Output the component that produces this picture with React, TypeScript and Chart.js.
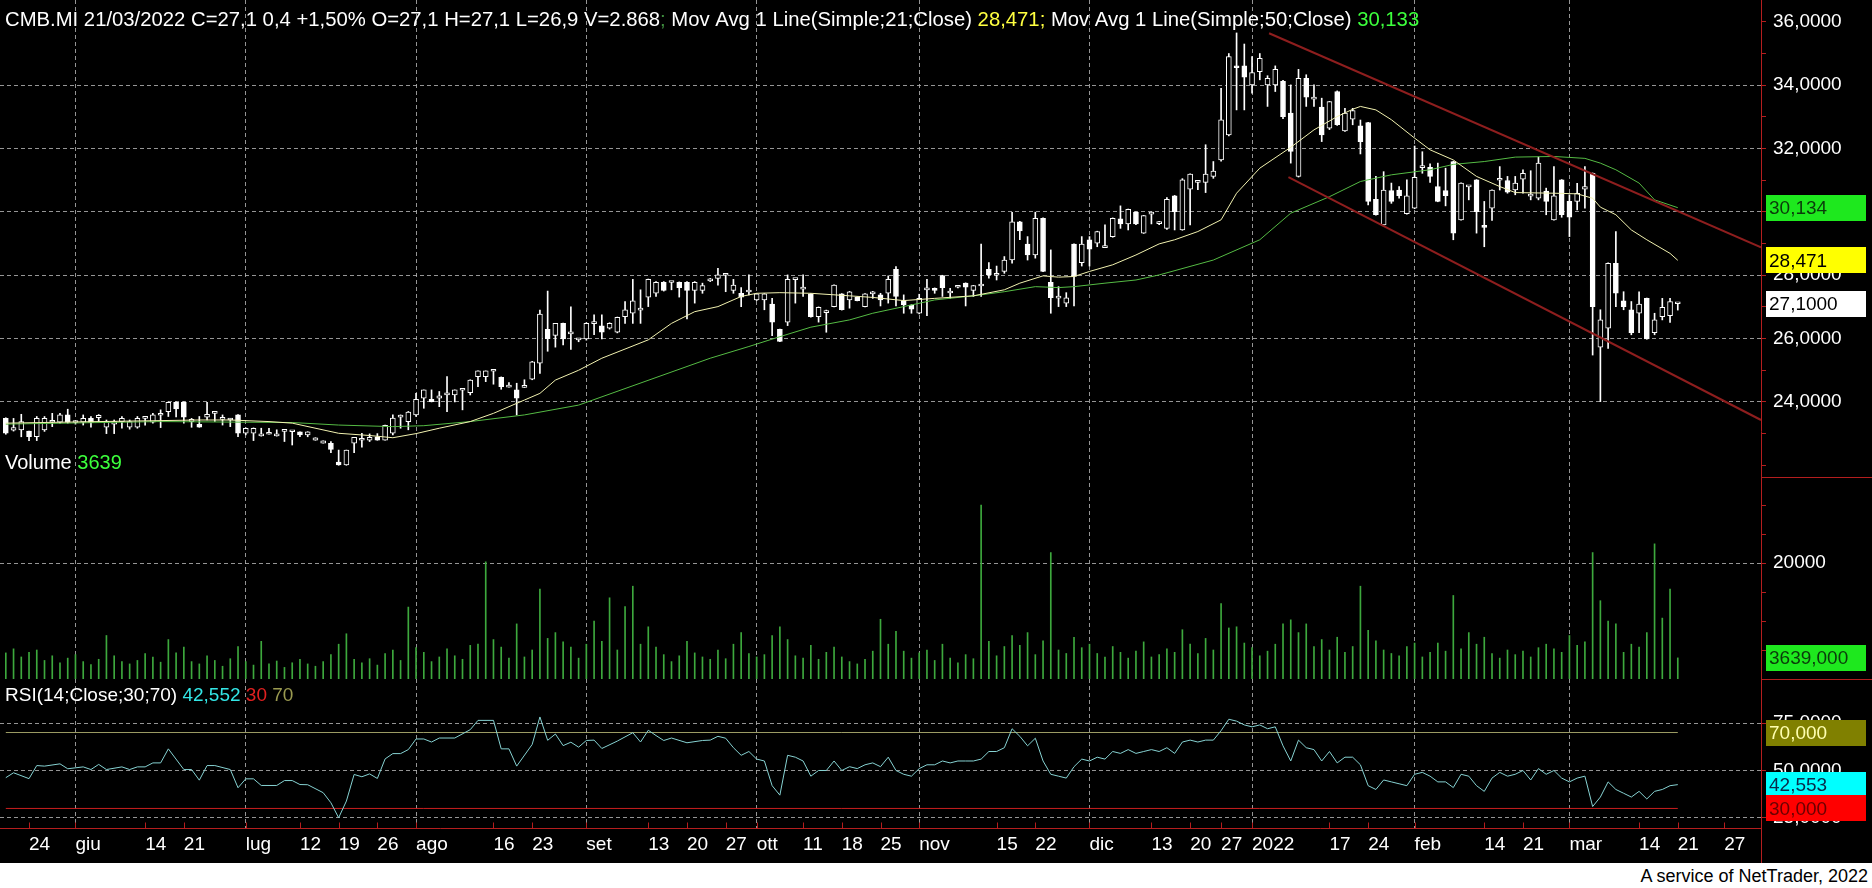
import React, { useEffect, useRef } from "react";
import { Chart, registerables } from "chart.js";

Chart.register(...registerables);

const FONT = '"Liberation Sans", Arial, sans-serif';

// ---- price data (trading-day index 0 = 19/05/2021 ... 216 = 21/03/2022) ----
const opens = [
  23.48, 23.11, 23.12, 23.08, 22.9, 23.12, 23.36, 23.36, 23.59, 23.35,
  23.36, 23.48, 23.5, 23.2, 23.3, 23.38, 23.2, 23.2, 23.48, 23.36,
  23.58, 23.69, 23.99, 23.99, 23.38, 23.29, 23.52, 23.64, 23.45, 23.43,
  23.59, 23.01, 23.01, 22.93, 22.98, 22.93, 23.07, 23.06, 23.06, 22.96,
  22.79, 22.7, 22.69, 22.1, 22.01, 22.7, 22.79, 22.79, 22.9, 22.79,
  23.01, 23.52, 23.38, 23.59, 24.12, 24.08, 24.12, 24.22, 24.22, 24.37,
  24.29, 24.8, 24.8, 24.97, 24.78, 24.47, 24.38, 24.46, 24.72, 25.22,
  26.29, 26.1, 26.48, 26.15, 25.96, 25.99, 26.47, 26.4, 26.33, 26.2,
  26.69, 26.8, 26.9, 27.31, 27.43, 27.78, 27.77, 27.78, 27.78, 27.52,
  27.52, 27.82, 27.9, 28.0, 27.52, 27.43, 27.47, 27.22, 27.22, 27.09,
  26.29, 26.52, 27.86, 27.56, 27.41, 26.69, 26.82, 27.01, 27.41, 27.22,
  27.31, 27.01, 27.41, 27.38, 27.43, 28.19, 27.19, 27.06, 26.8, 27.54,
  27.59, 27.99, 27.44, 27.62, 27.75, 27.52, 27.66, 28.19, 28.0, 28.12,
  28.48, 29.69, 28.98, 28.64, 29.8, 27.78, 27.28, 27.12, 28.98, 28.4,
  29.12, 29.01, 28.87, 29.22, 29.78, 29.62, 29.99, 29.33, 29.93, 29.63,
  29.48, 30.51, 29.43, 30.72, 30.93, 30.93, 31.12, 31.64, 32.43, 34.6,
  34.61, 34.01, 34.43, 34.01, 34.01, 34.12, 33.12, 31.12, 34.22, 33.56,
  33.31, 32.64, 33.8, 32.56, 32.93, 32.72, 32.82, 30.4, 29.59, 30.67,
  30.69, 29.94, 30.12, 31.4, 31.41, 30.8, 30.67, 31.59, 29.75, 30.79,
  31.01, 29.57, 30.12, 31.0, 30.99, 30.69, 31.03, 30.5, 30.43, 30.66,
  29.75, 31.01, 30.33, 30.33, 30.72, 31.22, 25.73, 26.33, 28.38, 27.19,
  26.91, 26.8, 27.27, 26.19, 26.69, 26.72, 27.1,
];
const highs = [
  23.5, 23.48, 23.61, 23.08, 23.54, 23.54, 23.64, 23.64, 23.77, 23.4,
  23.59, 23.54, 23.6, 23.43, 23.43, 23.54, 23.43, 23.54, 23.5, 23.64,
  23.75, 24.0, 24.0, 24.0, 23.48, 23.54, 23.99, 23.7, 23.59, 23.48,
  23.6, 23.18, 23.18, 23.17, 23.17, 23.12, 23.08, 23.07, 23.06, 23.06,
  22.87, 22.77, 22.75, 22.48, 22.48, 22.88, 23.01, 22.99, 23.0, 23.27,
  23.59, 23.59, 23.7, 24.27, 24.38, 24.38, 24.33, 24.8, 24.38, 24.38,
  24.7, 24.98, 24.98, 24.98, 24.79, 24.61, 24.59, 24.7, 25.28, 26.9,
  27.5, 26.48, 26.49, 27.0, 26.0, 26.5, 26.75, 26.75, 26.5, 26.68,
  27.17, 27.87, 27.54, 27.88, 27.8, 27.8, 27.78, 27.79, 27.8, 27.8,
  27.75, 27.9, 28.22, 28.02, 27.87, 27.61, 28.01, 27.42, 27.42, 27.27,
  26.3, 28.01, 27.88, 28.01, 27.42, 27.0, 26.9, 27.7, 27.42, 27.49,
  27.32, 27.42, 27.49, 27.43, 27.98, 28.27, 27.38, 27.07, 27.4, 27.87,
  27.6, 28.0, 27.59, 27.68, 27.76, 27.68, 28.98, 28.4, 28.29, 28.59,
  29.99, 29.7, 29.22, 29.99, 29.81, 28.8, 27.64, 27.45, 28.99, 29.22,
  29.22, 29.39, 29.59, 29.81, 30.19, 30.09, 30.0, 29.89, 30.0, 29.7,
  30.45, 30.52, 31.05, 31.2, 31.0, 32.12, 31.59, 33.9, 35.0, 35.65,
  35.3, 34.9, 35.0, 34.3, 34.61, 34.15, 34.01, 34.5, 34.33, 34.01,
  33.59, 33.49, 33.82, 33.27, 33.27, 32.9, 32.83, 31.12, 31.27, 30.91,
  30.8, 31.01, 32.08, 31.9, 31.52, 31.54, 31.38, 31.6, 30.92, 30.81,
  31.02, 30.33, 30.7, 31.43, 31.12, 31.12, 31.33, 31.3, 31.73, 30.75,
  31.43, 31.02, 30.54, 30.9, 31.43, 31.23, 26.91, 28.39, 29.38, 27.48,
  27.17, 27.48, 27.28, 26.8, 27.27, 27.27, 27.1,
];
const lows = [
  22.98, 23.08, 22.9, 22.78, 22.78, 23.07, 23.22, 23.33, 23.33, 23.3,
  23.27, 23.2, 23.38, 23.0, 23.0, 23.17, 23.14, 23.17, 23.27, 23.33,
  23.19, 23.54, 23.53, 23.33, 23.2, 23.2, 23.43, 23.38, 23.27, 23.22,
  22.9, 22.96, 22.78, 22.92, 22.98, 22.92, 22.75, 22.64, 22.9, 22.9,
  22.79, 22.7, 22.4, 22.0, 22.0, 22.4, 22.57, 22.75, 22.79, 22.79,
  22.96, 23.17, 23.12, 23.54, 23.8, 24.0, 23.85, 23.69, 24.0, 23.75,
  24.22, 24.48, 24.64, 24.56, 24.4, 24.47, 23.59, 24.46, 24.7, 24.9,
  25.6, 25.73, 25.8, 25.66, 25.9, 25.95, 26.12, 25.99, 26.3, 26.18,
  26.48, 26.48, 26.48, 27.01, 27.33, 27.5, 27.54, 27.31, 26.62, 27.12,
  27.43, 27.8, 27.69, 27.48, 27.43, 27.01, 27.38, 27.2, 26.91, 26.09,
  25.9, 26.41, 27.12, 27.33, 26.68, 26.52, 26.2, 27.0, 26.9, 26.96,
  27.19, 27.0, 27.27, 27.03, 27.12, 27.03, 26.8, 26.8, 26.78, 26.72,
  27.43, 27.33, 27.27, 27.6, 27.03, 27.33, 27.33, 27.91, 27.85, 28.06,
  28.38, 29.12, 28.48, 28.54, 28.11, 26.8, 27.01, 27.01, 27.03, 28.29,
  28.29, 28.9, 28.87, 29.2, 29.48, 29.43, 29.6, 29.32, 29.62, 29.6,
  29.45, 29.43, 29.42, 29.59, 30.7, 30.61, 31.06, 31.6, 32.4, 33.22,
  33.22, 33.75, 34.17, 33.33, 33.8, 32.94, 31.54, 31.1, 33.33, 33.33,
  32.22, 32.6, 32.73, 32.54, 32.75, 31.83, 30.22, 29.9, 29.58, 30.27,
  30.43, 29.93, 30.1, 31.22, 30.93, 30.32, 30.19, 29.12, 29.74, 30.38,
  29.33, 28.9, 29.73, 30.69, 30.59, 30.54, 30.59, 30.38, 30.38, 29.91,
  29.74, 29.83, 29.22, 30.06, 30.12, 25.48, 24.01, 25.69, 27.01, 26.91,
  26.12, 26.19, 25.98, 26.12, 26.59, 26.51, 26.9,
];
const closes = [
  23.01, 23.19, 23.38, 22.9, 23.48, 23.48, 23.4, 23.59, 23.36, 23.38,
  23.48, 23.35, 23.58, 23.38, 23.38, 23.48, 23.38, 23.48, 23.49, 23.59,
  23.6, 23.99, 23.78, 23.52, 23.45, 23.2, 23.61, 23.68, 23.46, 23.44,
  23.01, 23.17, 23.17, 22.99, 22.99, 22.99, 23.08, 23.07, 22.96, 23.06,
  22.87, 22.77, 22.5, 22.01, 22.48, 22.88, 22.8, 22.88, 22.79, 23.26,
  23.49, 23.54, 23.68, 24.08, 24.38, 24.01, 24.19, 24.29, 24.38, 24.38,
  24.69, 24.98, 24.98, 24.98, 24.48, 24.48, 24.12, 24.47, 25.27, 26.77,
  26.0, 26.48, 25.99, 26.17, 25.99, 26.48, 26.49, 26.2, 26.48, 26.67,
  26.91, 27.19, 26.92, 27.87, 27.78, 27.52, 27.78, 27.61, 27.52, 27.78,
  27.67, 27.87, 28.01, 28.01, 27.69, 27.31, 27.49, 27.41, 27.41, 26.52,
  25.91, 27.87, 27.87, 27.58, 26.69, 26.99, 26.88, 27.69, 26.91, 27.48,
  27.2, 27.41, 27.48, 27.22, 27.87, 27.33, 27.06, 26.93, 27.27, 27.59,
  27.52, 27.61, 27.46, 27.67, 27.62, 27.67, 27.67, 28.01, 28.02, 28.48,
  29.69, 29.4, 28.64, 29.8, 28.12, 27.29, 27.3, 27.29, 27.96, 28.98,
  28.82, 29.38, 28.88, 29.8, 29.62, 30.08, 29.62, 29.88, 29.99, 29.65,
  30.4, 30.01, 31.01, 31.19, 30.99, 31.19, 31.29, 32.91, 34.9, 34.55,
  34.25, 34.4, 34.85, 34.22, 34.5, 33.01, 31.91, 34.22, 33.62, 33.58,
  32.43, 33.48, 32.75, 33.12, 33.2, 32.22, 30.33, 29.91, 30.69, 30.33,
  30.51, 30.51, 31.09, 31.42, 31.12, 30.33, 30.51, 29.33, 30.91, 30.8,
  30.01, 29.51, 30.69, 31.02, 30.62, 30.91, 31.22, 30.52, 31.54, 30.33,
  30.51, 29.91, 29.83, 30.59, 30.8, 27.01, 26.59, 28.38, 27.43, 27.01,
  26.19, 27.09, 25.99, 26.59, 26.99, 27.17, 27.1,
];
const volumes = [
  4500, 5200, 3800, 4600, 5000, 3200, 4000, 2800, 3600, 4200,
  3000, 2500, 3400, 7500, 4000, 3000, 2600, 3200, 4400, 3800,
  2900, 6800, 4500, 5500, 3000, 2600, 4000, 3200, 2200, 3500,
  5600, 3000, 2400, 6500, 2600, 3100, 2000, 2800, 3400, 2600,
  2200, 3000, 4200, 6000, 7800, 3400, 2800, 3500, 2400, 4400,
  5000, 3200, 12400, 5400, 4600, 3000, 3800, 5200, 4000, 3400,
  5800, 6000, 20200, 6800, 5500, 3600, 9500, 3800, 5000, 15500,
  7000, 8000, 6400, 5500, 3600, 6000, 10000, 6500, 14000, 5000,
  12500, 16000, 6000, 9000, 5500, 4200, 3000, 4000, 6500, 4500,
  3800, 3400, 5000, 3500, 6000, 8000, 4400, 3800, 4200, 7500,
  9000, 6800, 4000, 3600, 5800, 3400, 4600, 5500, 3800, 3000,
  2600, 3400, 4800, 10300, 6000, 8200, 4800, 3600, 4500, 5000,
  3200, 6000, 3600, 2800, 4200, 3500, 30000, 6500, 4000, 5600,
  7500, 5800, 8000, 4200, 6600, 21800, 5000, 4400, 7200, 5400,
  6000, 4400, 3800, 5600, 4600, 3600, 4800, 6400, 3800, 4200,
  5200, 4600, 8500, 6000, 4400, 7000, 5000, 13000, 8800, 9000,
  6200, 5400, 4000, 4800, 6000, 9500, 10200, 8000, 9500, 5600,
  6800, 5000, 7200, 4600, 5600, 16000, 8400, 6600, 5000, 4400,
  4000, 5600, 6200, 3800, 4600, 6200, 4800, 14400, 5200, 8000,
  6000, 7200, 4400, 3600, 5000, 4200, 4800, 3800, 5400, 6000,
  5200, 4600, 7500, 5800, 6400, 21800, 13500, 10000, 9500, 4600,
  6000, 5500, 8000, 23300, 10500, 15500, 3639,
];

// RSI(14) readings: [day index, value]
const rsiPoints = [
  [0, 46.2], [1, 48.8], [3, 45.7], [4, 52.6], [5, 52.3], [7, 53.5], [8, 50.9], [10, 51.9], [11, 50.5], [12, 53.2],
  [13, 50.5], [15, 51.9], [16, 50.5], [17, 51.9], [18, 51.9], [19, 54], [20, 54], [21, 61.4], [23, 50.5], [24, 50.5],
  [25, 44.9], [26, 52.6], [27, 52.6], [29, 50.5], [30, 40.9], [31, 45.6], [32, 45.6], [33, 42.1], [35, 42.1], [36, 44.7],
  [37, 44.7], [38, 42.6], [39, 42.5], [41, 38.3], [42, 33.0], [43, 25.1], [44, 33.9], [45, 47.9], [46, 46.7], [47, 48.2],
  [48, 45.8], [49, 56.1], [50, 58.9], [51, 58.9], [52, 61.0], [53, 66.6], [54, 66.6], [55, 65.0], [56, 67.1], [58, 67.1],
  [60, 71.5], [61, 76.4], [63, 76.4], [64, 61.4], [65, 61.4], [66, 52.3], [68, 63.7], [69, 78.2], [70, 65.9], [71, 69.2],
  [72, 63.1], [73, 64.9], [74, 62.3], [75, 65.8], [76, 66.0], [77, 61.6], [79, 65.5], [81, 69.9], [82, 65.0], [83, 71.2],
  [84, 68.4], [85, 65.8], [86, 67.1], [88, 64.6], [90, 65.8], [91, 66], [92, 68], [93, 67], [94, 62], [95, 58],
  [96, 60], [97, 56], [98, 55], [99, 42], [100, 37], [101, 58], [102, 57], [103, 55], [104, 47], [105, 50],
  [106, 50], [107, 55], [108, 50], [109, 52], [110, 51], [111, 53], [112, 54], [113, 52], [114, 57], [115, 50],
  [116, 48], [117, 47], [118, 51], [119, 53], [120, 53], [121, 55], [122, 54], [123, 55], [124, 55], [125, 55],
  [126, 56], [127, 60], [128, 60], [129, 62], [130, 72], [131, 68], [132, 63], [133, 67], [134, 55], [135, 48],
  [136, 47], [137, 46], [138, 52], [139, 56], [140, 55], [141, 57], [142, 56], [143, 60], [144, 59], [145, 61],
  [146, 59], [147, 60], [148, 61], [149, 60], [150, 62], [151, 59], [152, 65], [153, 66], [154, 65], [155, 66],
  [156, 66], [157, 71], [158, 77], [159, 76], [160, 74], [161, 73], [162, 74], [163, 72], [164, 73], [165, 63],
  [166, 55], [167, 66], [168, 62], [169, 61], [170, 55], [171, 60], [172, 54], [173, 57], [174, 57], [175, 53],
  [176, 42], [177, 40], [178, 45], [179, 44], [180, 43], [181, 42], [182, 48], [183, 49], [184, 47], [185, 44],
  [186, 44], [187, 41], [188, 48], [189, 47], [190, 42], [191, 39], [192, 46], [193, 49], [194, 47], [195, 48],
  [196, 50], [197, 45], [198, 51], [199, 48], [200, 50], [201, 46], [202, 44], [203, 46], [204, 47], [205, 31],
  [206, 36], [207, 44], [208, 40], [209, 38], [210, 36], [211, 39], [212, 35], [213, 39], [214, 40], [215, 42],
  [216, 42.55],
];

// moving averages: [day index, value]
const ma21Points = [
  [0, 23.33], [12, 23.38], [25, 23.43], [29, 23.43], [34, 23.38], [37, 23.33], [43, 23.01], [47, 22.94], [50, 22.87],
  [53, 23.0], [56, 23.17], [60, 23.38], [63, 23.64], [67, 24.06], [69, 24.27], [71, 24.69], [74, 25.0], [77, 25.38],
  [83, 25.96], [86, 26.48], [89, 26.85], [92, 27.01], [95, 27.33], [97, 27.43], [100, 27.45], [104, 27.43], [109, 27.35],
  [112, 27.3], [116, 27.2], [120, 27.27], [125, 27.35], [129, 27.54], [131, 27.75], [134, 27.98], [136, 27.94],
  [138, 27.96], [140, 28.12], [143, 28.33], [146, 28.64], [149, 28.99], [151, 29.12], [154, 29.38], [157, 29.75],
  [159, 30.59], [162, 31.38], [166, 32.04], [169, 32.59], [172, 33.01], [174, 33.24], [175, 33.33], [177, 33.22],
  [179, 32.91], [182, 32.33], [184, 31.96], [187, 31.64], [190, 31.12], [193, 30.8], [195, 30.61], [200, 30.59],
  [203, 30.57], [205, 30.43], [206, 30.15], [208, 29.91], [210, 29.43], [212, 29.12], [215, 28.69], [216, 28.471],
];
const ma50Points = [
  [0, 23.3], [20, 23.38], [37, 23.35], [43, 23.27], [50, 23.22], [54, 23.25], [60, 23.38], [67, 23.59], [74, 23.9],
  [91, 25.38], [96, 25.75], [100, 26.06], [104, 26.36], [109, 26.59], [112, 26.8], [116, 27.01], [120, 27.22],
  [125, 27.35], [129, 27.48], [133, 27.64], [136, 27.61], [138, 27.64], [142, 27.75], [146, 27.85], [149, 28.01],
  [156, 28.48], [162, 29.12], [166, 29.96], [171, 30.48], [175, 30.96], [179, 31.17], [184, 31.33], [187, 31.5],
  [191, 31.59], [195, 31.73], [200, 31.75], [204, 31.69], [206, 31.54], [208, 31.33], [211, 30.91], [213, 30.38],
  [216, 30.133],
];

// hand-drawn channel lines: [day index, price]
const trendUpper = [[163.2, 35.64], [226.75, 28.88]];
const trendLower = [[165.7, 31.1], [226.75, 23.43]];

// x axis
const xTickIdx = [3, 9, 18, 23, 31, 38, 43, 48, 53, 63, 68, 75, 83, 88, 93, 97, 103, 108, 113, 118, 128, 133, 140, 148, 153, 157, 161, 171, 176, 182, 191, 196, 202, 211, 216, 222];
const xTickLabels = ["24", "giu", "14", "21", "lug", "12", "19", "26", "ago", "16", "23", "set", "13", "20", "27", "ott", "11", "18", "25", "nov", "15", "22", "dic", "13", "20", "27", "2022", "17", "24", "feb", "14", "21", "mar", "14", "21", "27"];
const monthIdx = [9, 31, 53, 75, 97, 118, 140, 161, 182, 202];

// y axes
const priceTicks = [22, 23, 24, 25, 26, 27, 28, 29, 30, 31, 32, 33, 34, 35, 36];
const priceLabelled = [24, 26, 28, 30, 32, 34, 36];
const priceGrid = [24, 26, 28, 30, 32, 34];
const volumeTicks = [5000, 10000, 15000, 20000, 25000, 30000];
const rsiTicks = [25, 50, 75];

// last values shown in the coloured boxes
const lastMa50 = 30.134;
const lastMa21 = 28.471;
const lastClose = 27.1;
const lastVolume = 3639;
const lastRsi = 42.553;

const GRID = "rgba(175,175,175,0.85)";
const RED = "#b41e1e";

function fmt(v: number, d: number) {
  return v.toFixed(d).replace(".", ",");
}

function noPad(s: any) {
  s.paddingTop = 0;
  s.paddingBottom = 0;
  s.paddingLeft = 0;
  s.paddingRight = 0;
}

const decor = {
  id: "decor",
  afterDraw(chart: any) {
    const ctx = chart.ctx as CanvasRenderingContext2D;
    const W = chart.width;
    const H = chart.height;
    const xs = chart.scales.x;
    const yP = chart.scales.yP;
    const yV = chart.scales.yV;
    const yR = chart.scales.yR;
    const right = Math.round(chart.chartArea.right);
    ctx.save();
    ctx.setLineDash([]);
    ctx.strokeStyle = RED;
    ctx.lineWidth = 1;
    const line = (x1: number, y1: number, x2: number, y2: number) => {
      ctx.beginPath();
      ctx.moveTo(x1, y1);
      ctx.lineTo(x2, y2);
      ctx.stroke();
    };
    const bottom = Math.round(yR.bottom) + 0.5;
    line(right + 0.5, 0, right + 0.5, H);
    line(0, bottom, right, bottom);
    line(right, Math.round(yP.bottom) + 0.5, W, Math.round(yP.bottom) + 0.5);
    line(right, Math.round(yV.bottom) + 0.5, W, Math.round(yV.bottom) + 0.5);
    for (const v of xTickIdx) {
      const px = Math.round(xs.getPixelForValue(v)) + 0.5;
      line(px, bottom - 6, px, bottom);
    }

    // value boxes
    const boxes = [
      { s: yP, v: lastMa50, bg: "#1ee81e", fg: "#0b3b0b", t: fmt(lastMa50, 3) },
      { s: yP, v: lastMa21, bg: "#ffff00", fg: "#000000", t: fmt(lastMa21, 3) },
      { s: yP, v: lastClose, bg: "#ffffff", fg: "#000000", t: fmt(lastClose, 4) },
      { s: yV, v: lastVolume, bg: "#1ee81e", fg: "#0b3b0b", t: fmt(lastVolume, 3) },
      { s: yR, v: 70, bg: "#808000", fg: "#ffffb0", t: fmt(70, 3) },
      { s: yR, v: lastRsi, bg: "#00ffff", fg: "#0a2a4a", t: fmt(lastRsi, 3) },
      { s: yR, v: 30, bg: "#ff0000", fg: "#6a0000", t: fmt(30, 3) },
    ];
    ctx.font = `19px ${FONT}`;
    ctx.textBaseline = "middle";
    ctx.textAlign = "left";
    for (const b of boxes) {
      const py = b.s.getPixelForValue(b.v);
      ctx.fillStyle = b.bg;
      ctx.fillRect(right + 5, Math.round(py - 13), 100, 26);
      ctx.fillStyle = b.fg;
      ctx.fillText(b.t, right + 8, py + 1);
    }

    // panel captions
    const drawSegs = (segs: [string, string][], x: number, y: number, size: number) => {
      ctx.font = `${size}px ${FONT}`;
      let cx = x;
      for (const [t, c] of segs) {
        ctx.fillStyle = c;
        ctx.fillText(t, cx, y);
        cx += ctx.measureText(t).width;
      }
    };
    drawSegs(
      [
        ["CMB.MI 21/03/2022 C=27,1 0,4 +1,50% O=27,1 H=27,1 L=26,9 V=2.868", "#ffffff"],
        ["; ", "#3f8f3f"],
        ["Mov Avg 1 Line(Simple;21;Close) ", "#ffffff"],
        ["28,471; ", "#ffff40"],
        ["Mov Avg 1 Line(Simple;50;Close) ", "#ffffff"],
        ["30,133", "#3cff3c"],
      ],
      5, 20, 20.3
    );
    drawSegs([["Volume ", "#ffffff"], ["3639", "#3cff3c"]], 5, yP.bottom - 14, 20);
    drawSegs(
      [["RSI(14;Close;30;70) ", "#ffffff"], ["42,552 ", "#33e6e6"], ["30 ", "#e02020"], ["70", "#9a9a50"]],
      5, yV.bottom + 17, 19
    );
    ctx.restore();
  },
};

export default function App() {
  const ref = useRef<HTMLCanvasElement>(null);
  useEffect(() => {
    document.body.style.margin = "0";
    const canvas = ref.current as HTMLCanvasElement;
    const idx = closes.map((_, i) => i);
    const bodyData = idx.map((i) => ({ x: i, y: [Math.min(opens[i], closes[i]), Math.max(opens[i], closes[i])] }));
    const bodyFill = idx.map((i) => (closes[i] < opens[i] ? "#ffffff" : "#000000"));
    const wickData = idx.map((i) => ({ x: i, y: [lows[i], highs[i]] }));
    const volData = idx.map((i) => ({ x: i, y: volumes[i] }));
    const pts = (a: number[][]) => a.map(([x, y]) => ({ x, y }));
    const lastIdx = closes.length - 1;
    const gridDash = [4, 3];

    const chart = new Chart(canvas, {
      type: "bar",
      data: {
        datasets: [
          { type: "line", data: pts(trendUpper), yAxisID: "yP", borderColor: "#8e1e1e", borderWidth: 2, pointRadius: 0, order: 0 } as any,
          { type: "line", data: pts(trendLower), yAxisID: "yP", borderColor: "#8e1e1e", borderWidth: 2, pointRadius: 0, order: 0 } as any,
          { type: "line", data: pts(ma21Points), yAxisID: "yP", borderColor: "#f2f2b0", borderWidth: 1, pointRadius: 0, order: 1 } as any,
          { type: "line", data: pts(ma50Points), yAxisID: "yP", borderColor: "#55bb44", borderWidth: 1, pointRadius: 0, order: 1 } as any,
          {
            type: "bar", data: bodyData, yAxisID: "yP", backgroundColor: bodyFill, borderColor: "#ffffff", borderWidth: 1,
            borderSkipped: false, barThickness: 5, minBarLength: 2, grouped: false, order: 3,
          } as any,
          { type: "bar", data: wickData, yAxisID: "yP", backgroundColor: "#ffffff", barThickness: 1, grouped: false, order: 4 } as any,
          { type: "bar", data: volData, yAxisID: "yV", backgroundColor: "#3da83d", barThickness: 1, grouped: false, order: 2 } as any,
          { type: "line", data: pts(rsiPoints), yAxisID: "yR", borderColor: "#86d2d2", borderWidth: 1, pointRadius: 0, order: 1 } as any,
          { type: "line", data: [{ x: 0, y: 70 }, { x: lastIdx, y: 70 }], yAxisID: "yR", borderColor: "#9c9c64", borderWidth: 1, pointRadius: 0, order: 2 } as any,
          { type: "line", data: [{ x: 0, y: 30 }, { x: lastIdx, y: 30 }], yAxisID: "yR", borderColor: "#c81e1e", borderWidth: 1, pointRadius: 0, order: 2 } as any,
        ],
      },
      options: {
        responsive: false,
        animation: false,
        events: [],
        layout: { padding: 0 },
        plugins: { legend: { display: false }, tooltip: { enabled: false }, title: { display: false } },
        scales: {
          x: {
            type: "linear",
            position: "bottom",
            min: -0.75,
            max: 226.75,
            offset: false,
            afterBuildTicks: (s: any) => {
              s.ticks = xTickIdx.map((v) => ({ value: v }));
            },
            afterFit: (s: any) => {
              s.height = 35;
              noPad(s);
            },
            ticks: {
              autoSkip: false,
              maxRotation: 0,
              minRotation: 0,
              align: "start",
              color: "#ffffff",
              font: { family: FONT, size: 19 },
              padding: 5,
              callback: (v: any) => {
                const k = xTickIdx.indexOf(Number(v));
                return k >= 0 ? xTickLabels[k] : "";
              },
            },
            grid: {
              offset: false,
              color: (c: any) => (c.tick && monthIdx.includes(c.tick.value) ? GRID : "rgba(0,0,0,0)"),
              drawTicks: false,
              lineWidth: 1,
            },
            border: { display: false, dash: gridDash },
          },
          yP: {
            type: "linear",
            position: "right",
            stack: "panels",
            stackWeight: 477,
            min: 21.63,
            max: 36.69,
            afterBuildTicks: (s: any) => {
              s.ticks = priceTicks.map((v) => ({ value: v }));
            },
            afterFit: (s: any) => {
              s.width = 111;
              noPad(s);
            },
            ticks: {
              autoSkip: false,
              color: "#ffffff",
              font: { family: FONT, size: 19 },
              padding: 7,
              callback: (v: any) => (priceLabelled.includes(Number(v)) ? fmt(Number(v), 4) : ""),
            },
            grid: {
              color: (c: any) => (c.tick && priceGrid.includes(c.tick.value) ? GRID : "rgba(0,0,0,0)"),
              tickColor: RED,
              tickLength: 5,
              drawTicks: true,
            },
            border: { display: false, dash: gridDash },
          },
          yV: {
            type: "linear",
            position: "right",
            stack: "panels",
            stackWeight: 202,
            min: 0,
            max: 34828,
            afterBuildTicks: (s: any) => {
              s.ticks = volumeTicks.map((v) => ({ value: v }));
            },
            afterFit: (s: any) => {
              s.width = 111;
              noPad(s);
            },
            ticks: {
              autoSkip: false,
              color: "#ffffff",
              font: { family: FONT, size: 19 },
              padding: 7,
              callback: (v: any) => (Number(v) === 20000 ? "20000" : ""),
            },
            grid: {
              color: (c: any) => (c.tick && c.tick.value === 20000 ? GRID : "rgba(0,0,0,0)"),
              tickColor: RED,
              tickLength: 5,
              drawTicks: true,
            },
            border: { display: false, dash: gridDash },
          },
          yR: {
            type: "linear",
            position: "right",
            stack: "panels",
            stackWeight: 149,
            min: 19.7,
            max: 98.2,
            afterBuildTicks: (s: any) => {
              s.ticks = rsiTicks.map((v) => ({ value: v }));
            },
            afterFit: (s: any) => {
              s.width = 111;
              noPad(s);
            },
            ticks: {
              autoSkip: false,
              color: "#ffffff",
              font: { family: FONT, size: 19 },
              padding: 7,
              callback: (v: any) => fmt(Number(v), 4),
            },
            grid: { color: GRID, tickColor: RED, tickLength: 5, drawTicks: true },
            border: { display: false, dash: gridDash },
          },
        },
      } as any,
      plugins: [decor],
    });
    return () => chart.destroy();
  }, []);

  return (
    <div style={{ position: "absolute", left: 0, top: 0, width: 1872, height: 888, background: "#ffffff", overflow: "hidden" }}>
      <canvas ref={ref} width={1872} height={863} style={{ display: "block", width: 1872, height: 863, background: "#000000" }} />
      <div
        style={{
          position: "absolute",
          right: 4,
          top: 864,
          height: 24,
          lineHeight: "24px",
          fontFamily: FONT,
          fontSize: 18,
          color: "#000000",
          whiteSpace: "nowrap",
        }}
      >
        A service of NetTrader, 2022
      </div>
    </div>
  );
}
